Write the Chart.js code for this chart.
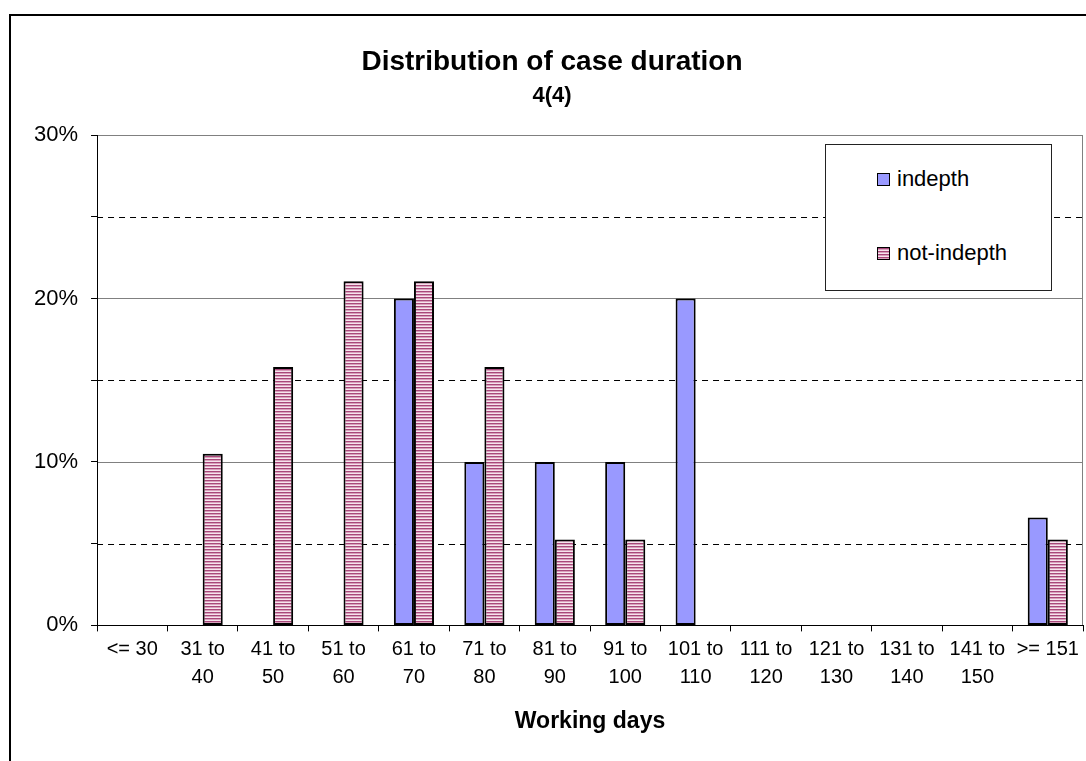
<!DOCTYPE html>
<html>
<head>
<meta charset="utf-8">
<script src="https://cdn.jsdelivr.net/npm/chart.js@4.4.0/dist/chart.umd.min.js"></script>
<style>
  body { margin: 0; background: #fff; overflow: hidden; font-family: "Liberation Sans", Arial, sans-serif; }
  #frame { position: absolute; left: 9px; top: 14px; width: 1200px; height: 900px;
           border-left: 2px solid #000; border-top: 2px solid #000; }
  #wrap { position: absolute; left: 0; top: 0; width: 1110px; height: 761px; }
  #legend { position: absolute; left: 825px; top: 144px; width: 225px; height: 145px;
            border: 1px solid #222; background: #fff; }
  .item { position: absolute; left: 51px; font-size: 22px; line-height: 24px; color: #000; }
  .sw { display: inline-block; width: 11px; height: 11px; border: 1px solid #000;
        margin-right: 7px; vertical-align: 0px; }
</style>
</head>
<body>
<div id="frame"></div>
<div id="wrap"><canvas id="chart" width="1110" height="761"></canvas></div>
<div id="legend"></div>
<script>
const categories = [
  ["<= 30"], ["31 to", "40"], ["41 to", "50"], ["51 to", "60"], ["61 to", "70"],
  ["71 to", "80"], ["81 to", "90"], ["91 to", "100"], ["101 to", "110"],
  ["111 to", "120"], ["121 to", "130"], ["131 to", "140"], ["141 to", "150"], [">= 151"]
];
const indepth = [0, 0, 0, 0, 20, 10, 10, 10, 20, 0, 0, 0, 0, 6.6];
const not_indepth = [0, 10.5, 15.8, 21.05, 21.05, 15.8, 5.26, 5.26, 0, 0, 0, 0, 0, 5.26];
const series_names = ["indepth", "not-indepth"];
const y_ticks = [0, 5, 10, 15, 20, 25, 30];

Chart.defaults.font.family = '"Liberation Sans", Arial, sans-serif';
Chart.defaults.color = "#000";

// pink horizontal stripes, like the excel fill
function stripes() {
  const c = document.createElement("canvas");
  c.width = 4;
  c.height = 3;
  const g = c.getContext("2d");
  g.fillStyle = "#f6e4ed";
  g.fillRect(0, 0, 4, 3);
  g.fillStyle = "#a8487a";
  g.fillRect(0, 0, 4, 1);
  g.fillStyle = "#d8a0bc";
  g.fillRect(0, 1, 4, 1);
  return g.createPattern(c, "repeat");
}

// gridlines: solid grey every 10%, dashed black in between, grey right edge
const plotGrid = {
  id: "plotGrid",
  beforeDraw(chart) {
    const { ctx, chartArea: a, scales } = chart;
    const y = scales.y;
    ctx.save();
    ctx.lineWidth = 1;
    y_ticks.forEach((v) => {
      if (v === 0) return;
      const py = Math.round(y.getPixelForValue(v)) + 0.5;
      if (v % 10 === 0) {
        ctx.strokeStyle = "#808080";
        ctx.setLineDash([]);
      } else {
        ctx.strokeStyle = "#000";
        ctx.setLineDash([6, 5]);
      }
      ctx.beginPath();
      ctx.moveTo(a.left, py);
      ctx.lineTo(a.right, py);
      ctx.stroke();
    });
    ctx.setLineDash([]);
    ctx.strokeStyle = "#808080";
    ctx.beginPath();
    ctx.moveTo(Math.round(a.right) - 0.5, a.top);
    ctx.lineTo(Math.round(a.right) - 0.5, a.bottom);
    ctx.stroke();
    ctx.restore();
  },
};

const pink = stripes();

new Chart(document.getElementById("chart"), {
  type: "bar",
  data: {
    labels: categories,
    datasets: [
      {
        label: series_names[0],
        data: indepth,
        backgroundColor: "#9999ff",
        borderColor: "#000",
        borderWidth: 2,
        borderSkipped: false,
      },
      {
        label: series_names[1],
        data: not_indepth,
        backgroundColor: pink,
        borderColor: "#000",
        borderWidth: 2,
        borderSkipped: false,
      },
    ],
  },
  options: {
    responsive: false,
    animation: false,
    layout: { padding: { left: 21, right: 27, top: 0, bottom: 26 } },
    categoryPercentage: 0.57,
    barPercentage: 1.0,
    plugins: {
      legend: { display: false },
      tooltip: { enabled: false },
      title: {
        display: true,
        text: "Distribution of case duration",
        font: { size: 28, weight: "bold", lineHeight: 1 },
        padding: { top: 48, bottom: 0 },
      },
      subtitle: {
        display: true,
        text: "4(4)",
        color: "#000",
        font: { size: 22, weight: "bold", lineHeight: 1 },
        padding: { top: 9, bottom: 28 },
      },
    },
    scales: {
      x: {
        grid: { offset: true, drawOnChartArea: false, tickLength: 6, color: "#000" },
        border: { color: "#000", width: 1 },
        ticks: { font: { size: 20, lineHeight: 1.4 }, padding: 4, maxRotation: 0, autoSkip: false },
        title: {
          display: true,
          text: "Working days",
          font: { size: 23, weight: "bold", lineHeight: 1.2 },
          padding: { top: 12, bottom: 0 },
        },
      },
      y: {
        min: 0,
        max: 30,
        afterBuildTicks: (axis) => { axis.ticks = y_ticks.map((v) => ({ value: v })); },
        grid: { drawOnChartArea: false, tickLength: 6, color: "#000" },
        border: { color: "#000", width: 1 },
        ticks: {
          font: { size: 22 },
          padding: 13,
          callback: (v) => (v % 10 === 0 ? v + "%" : ""),
        },
      },
    },
  },
  plugins: [plotGrid],
});

// legend box, same look as the excel one
const legend = document.getElementById("legend");
const swatches = ["background:#9999ff", "background:repeating-linear-gradient(to bottom,#a8487a 0 1px,#d8a0bc 1px 2px,#f6e4ed 2px 3px)"];
series_names.forEach((name, i) => {
  const row = document.createElement("div");
  row.className = "item";
  row.style.top = (i === 0 ? 22 : 96) + "px";
  row.innerHTML = '<span class="sw" style="' + swatches[i] + '"></span>' + name;
  legend.appendChild(row);
});
</script>
</body>
</html>
